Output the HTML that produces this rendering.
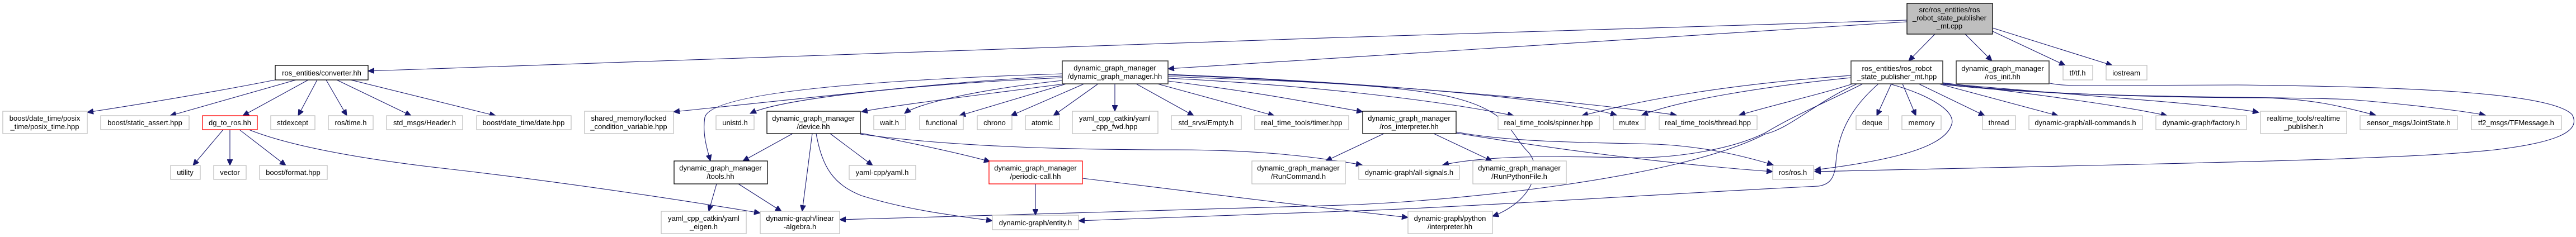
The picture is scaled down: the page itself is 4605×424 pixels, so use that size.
<!DOCTYPE html>
<html><head><meta charset="utf-8"><style>
html,body{margin:0;padding:0;background:#fff;}
svg{display:block;}
text{font-family:"Liberation Sans",Arial,sans-serif;font-size:13px;fill:#000;text-anchor:middle;}
.g{fill:#fff;stroke:#bfbfbf;stroke-width:1.3;}
.b{fill:#fff;stroke:#000;stroke-width:1.3;}
.d{fill:#fff;stroke:#404040;stroke-width:1.6;}
.r{fill:#fff;stroke:#ff0000;stroke-width:1.3;}
.m{fill:#bfbfbf;stroke:#000;stroke-width:1.3;}
path.e{fill:none;stroke:#191970;stroke-width:1.1;marker-end:url(#a);}
</style></head><body>
<svg width="4605" height="424" viewBox="0 0 4605 424" xmlns="http://www.w3.org/2000/svg">
<defs><marker id="a" markerUnits="userSpaceOnUse" markerWidth="12" markerHeight="10" refX="11" refY="5" orient="auto"><path d="M0,0 L11,5 L0,10 z" fill="#191970" stroke="#191970"/></marker></defs>

<!-- edges -->
<path class="e" d="M3409,36 C2500,60 1200,110 658,127"/>
<path class="e" d="M3409,39 C2900,70 2400,100 2088,123"/>
<path class="e" d="M3459,61 L3412,109"/>
<path class="e" d="M3513,61 L3561,109"/>
<path class="e" d="M3560,55 L3692,117"/>
<path class="e" d="M3562,50 L3776,117"/>

<path class="e" d="M492,143 C380,165 260,185 156,201"/>
<path class="e" d="M529,143 L304,207"/>
<path class="e" d="M551,143 L434,207"/>
<path class="e" d="M567,143 L533,207"/>
<path class="e" d="M583,143 L620,207"/>
<path class="e" d="M602,143 L735,207"/>
<path class="e" d="M627,143 L886,207"/>

<path class="e" d="M399,232 L345,296"/>
<path class="e" d="M411,232 L411,296"/>
<path class="e" d="M428,232 L511,296"/>
<path class="e" d="M445,232 C520,262 650,285 800,302 C1000,325 1200,355 1359,381"/>

<path class="e" d="M1899,132 C1500,145 1270,170 1260,210 C1255,240 1265,270 1270,288"/>
<path class="e" d="M1899,136 C1700,145 1500,170 1204,200"/>
<path class="e" d="M1899,139 C1650,150 1400,175 1341,203"/>
<path class="e" d="M1903,150 C1750,170 1600,188 1540,200"/>
<path class="e" d="M1899,144 C1750,160 1640,185 1617,203"/>
<path class="e" d="M1906,150 L1715,207"/>
<path class="e" d="M1938,150 L1807,207"/>
<path class="e" d="M1963,150 L1883,207"/>
<path class="e" d="M1993,150 L1993,199"/>
<path class="e" d="M2031,150 L2134,207"/>
<path class="e" d="M2069,150 L2278,207"/>
<path class="e" d="M2088,133 C2500,150 2800,180 2890,206"/>
<path class="e" d="M2088,134 C2500,150 2850,185 2997,206"/>
<path class="e" d="M2088,137 C2300,145 2500,150 2600,175 C2700,200 2700,240 2730,270 C2760,300 2740,360 2668,387"/>
<path class="e" d="M2088,140 C2300,150 2550,175 2706,207"/>
<path class="e" d="M2088,145 C2250,165 2350,185 2436,200"/>

<path class="e" d="M1417,239 L1328,288"/>
<path class="e" d="M1452,239 L1434,378"/>
<path class="e" d="M1484,239 L1560,296"/>
<path class="e" d="M1459,239 C1470,300 1490,330 1540,350 C1620,375 1700,385 1774,395"/>
<path class="e" d="M1538,238 C1600,250 1700,270 1770,289"/>
<path class="e" d="M1538,240 C1700,262 1900,268 2100,268 C2250,268 2350,280 2435,295"/>

<path class="e" d="M1281,329 L1267,378"/>
<path class="e" d="M1320,329 L1397,378"/>
<path class="e" d="M1851,329 L1851,385"/>
<path class="e" d="M1935,319 C2150,345 2300,365 2517,389"/>

<path class="e" d="M2474,239 L2370,288"/>
<path class="e" d="M2563,239 L2667,288"/>
<path class="e" d="M2603,236 C2700,255 2850,255 2961,258 C3050,262 3120,280 3170,295"/>
<path class="e" d="M2603,238 C2800,270 3000,295 3169,307"/>

<path class="e" d="M3320,150 C3250,180 3200,230 3155,240 C3000,320 2600,360 2400,367 L1501,393"/>
<path class="e" d="M3358,150 C3300,200 3285,250 3282,290 C3280,320 3270,330 3251,333 C3000,345 2600,372 2400,378 L1928,395"/>
<path class="e" d="M3312,150 C3250,170 3180,185 3109,206"/>
<path class="e" d="M3330,150 C3260,185 3210,205 3155,238 C3100,265 3000,285 2900,282 C2750,278 2650,280 2579,295"/>
<path class="e" d="M3309,135 C3100,150 2950,175 2828,207"/>
<path class="e" d="M3309,139 C3150,155 3000,180 2935,206"/>
<path class="e" d="M3378,150 C3450,170 3500,200 3488,225 C3475,260 3400,285 3244,304"/>
<path class="e" d="M3381,150 L3355,207"/>
<path class="e" d="M3401,150 L3425,207"/>
<path class="e" d="M3430,150 L3548,207"/>
<path class="e" d="M3466,150 L3679,207"/>
<path class="e" d="M3473,148 C3650,170 3800,190 3874,207"/>
<path class="e" d="M3473,149 C3700,170 3950,185 4038,201"/>
<path class="e" d="M3473,150 C3650,170 3900,175 4050,175 C4150,178 4200,195 4247,206"/>
<path class="e" d="M3473,151 C3700,178 4100,172 4200,178 C4300,186 4400,198 4443,206"/>
<path class="e" d="M3660,148 C3680,153 3700,153 3750,153 L4000,152 C4300,155 4560,165 4598,205 C4615,235 4570,255 4460,268 C4300,285 4000,290 3244,307"/>

<!-- nodes -->
<rect class="m" x="3409" y="6" width="153" height="55"/>
<text x="3485" y="22"><tspan x="3485">src/ros_entities/ros</tspan><tspan x="3485" dy="14.5">_robot_state_publisher</tspan><tspan x="3485" dy="14.5">_mt.cpp</tspan></text>

<rect class="b" x="492" y="117" width="166" height="26"/><text x="575" y="135">ros_entities/converter.hh</text>
<rect class="d" x="1899" y="109" width="189" height="41"/><text x="1993" y="126"><tspan x="1993">dynamic_graph_manager</tspan><tspan x="1993" dy="15">/dynamic_graph_manager.hh</tspan></text>
<rect class="d" x="3309" y="109" width="164" height="41"/><text x="3391" y="127"><tspan x="3391">ros_entities/ros_robot</tspan><tspan x="3391" dy="14.5">_state_publisher_mt.hpp</tspan></text>
<rect class="d" x="3497" y="109" width="166" height="41"/><text x="3580" y="127"><tspan x="3580">dynamic_graph_manager</tspan><tspan x="3580" dy="14.5">/ros_init.hh</tspan></text>
<rect class="g" x="3688" y="117" width="53" height="26"/><text x="3714" y="135">tf/tf.h</text>
<rect class="g" x="3765" y="117" width="73" height="26"/><text x="3801" y="135">iostream</text>

<rect class="g" x="5" y="199" width="151" height="40"/><text x="80" y="216"><tspan x="80">boost/date_time/posix</tspan><tspan x="80" dy="15">_time/posix_time.hpp</tspan></text>
<rect class="g" x="180" y="207" width="158" height="25"/><text x="259" y="224">boost/static_assert.hpp</text>
<rect class="r" x="362" y="207" width="98" height="25"/><text x="411" y="224">dg_to_ros.hh</text>
<rect class="g" x="484" y="207" width="79" height="25"/><text x="523" y="224">stdexcept</text>
<rect class="g" x="587" y="207" width="80" height="25"/><text x="627" y="224">ros/time.h</text>
<rect class="g" x="691" y="207" width="136" height="25"/><text x="759" y="224">std_msgs/Header.h</text>
<rect class="g" x="852" y="207" width="169" height="25"/><text x="936" y="224">boost/date_time/date.hpp</text>
<rect class="g" x="1045" y="199" width="159" height="40"/><text x="1124" y="216"><tspan x="1124">shared_memory/locked</tspan><tspan x="1124" dy="15">_condition_variable.hpp</tspan></text>
<rect class="g" x="1280" y="207" width="68" height="25"/><text x="1314" y="224">unistd.h</text>
<rect class="b" x="1371" y="199" width="167" height="40"/><text x="1454" y="216"><tspan x="1454">dynamic_graph_manager</tspan><tspan x="1454" dy="15">/device.hh</tspan></text>
<rect class="g" x="1562" y="207" width="57" height="25"/><text x="1590" y="224">wait.h</text>
<rect class="g" x="1644" y="207" width="78" height="25"/><text x="1683" y="224">functional</text>
<rect class="g" x="1747" y="207" width="62" height="25"/><text x="1778" y="224">chrono</text>
<rect class="g" x="1833" y="207" width="61" height="25"/><text x="1863" y="224">atomic</text>
<rect class="g" x="1917" y="199" width="153" height="40"/><text x="1993" y="216"><tspan x="1993">yaml_cpp_catkin/yaml</tspan><tspan x="1993" dy="15">_cpp_fwd.hpp</tspan></text>
<rect class="g" x="2094" y="207" width="125" height="25"/><text x="2156" y="224">std_srvs/Empty.h</text>
<rect class="g" x="2243" y="207" width="168" height="25"/><text x="2327" y="224">real_time_tools/timer.hpp</text>
<rect class="b" x="2436" y="199" width="167" height="40"/><text x="2519" y="216"><tspan x="2519">dynamic_graph_manager</tspan><tspan x="2519" dy="15">/ros_interpreter.hh</tspan></text>
<rect class="g" x="2678" y="207" width="181" height="25"/><text x="2768" y="224">real_time_tools/spinner.hpp</text>
<rect class="g" x="2884" y="207" width="57" height="25"/><text x="2912" y="224">mutex</text>
<rect class="g" x="2966" y="207" width="175" height="25"/><text x="3053" y="224">real_time_tools/thread.hpp</text>
<rect class="g" x="3318" y="207" width="58" height="25"/><text x="3347" y="224">deque</text>
<rect class="g" x="3400" y="207" width="70" height="25"/><text x="3435" y="224">memory</text>
<rect class="g" x="3544" y="207" width="59" height="25"/><text x="3573" y="224">thread</text>
<rect class="g" x="3627" y="207" width="203" height="25"/><text x="3728" y="224">dynamic-graph/all-commands.h</text>
<rect class="g" x="3854" y="207" width="162" height="25"/><text x="3935" y="224">dynamic-graph/factory.h</text>
<rect class="g" x="4041" y="199" width="154" height="40"/><text x="4118" y="216"><tspan x="4118">realtime_tools/realtime</tspan><tspan x="4118" dy="15">_publisher.h</tspan></text>
<rect class="g" x="4219" y="207" width="174" height="25"/><text x="4306" y="224">sensor_msgs/JointState.h</text>
<rect class="g" x="4418" y="207" width="161" height="25"/><text x="4498" y="224">tf2_msgs/TFMessage.h</text>

<rect class="g" x="305" y="296" width="53" height="25"/><text x="331" y="313">utility</text>
<rect class="g" x="382" y="296" width="58" height="25"/><text x="411" y="313">vector</text>
<rect class="g" x="464" y="296" width="121" height="25"/><text x="524" y="313">boost/format.hpp</text>
<rect class="b" x="1205" y="288" width="167" height="41"/><text x="1288" y="305"><tspan x="1288">dynamic_graph_manager</tspan><tspan x="1288" dy="15">/tools.hh</tspan></text>
<rect class="g" x="1518" y="296" width="119" height="25"/><text x="1577" y="313">yaml-cpp/yaml.h</text>
<rect class="r" x="1768" y="288" width="167" height="41"/><text x="1851" y="305"><tspan x="1851">dynamic_graph_manager</tspan><tspan x="1851" dy="15">/periodic-call.hh</tspan></text>
<rect class="g" x="2238" y="288" width="167" height="41"/><text x="2321" y="305"><tspan x="2321">dynamic_graph_manager</tspan><tspan x="2321" dy="15">/RunCommand.h</tspan></text>
<rect class="g" x="2429" y="296" width="180" height="25"/><text x="2519" y="313">dynamic-graph/all-signals.h</text>
<rect class="g" x="2633" y="288" width="167" height="41"/><text x="2716" y="305"><tspan x="2716">dynamic_graph_manager</tspan><tspan x="2716" dy="15">/RunPythonFile.h</tspan></text>
<rect class="g" x="3169" y="296" width="73" height="25"/><text x="3205" y="313">ros/ros.h</text>

<rect class="g" x="1182" y="378" width="152" height="40"/><text x="1258" y="395"><tspan x="1258">yaml_cpp_catkin/yaml</tspan><tspan x="1258" dy="15">_eigen.h</tspan></text>
<rect class="g" x="1359" y="378" width="142" height="40"/><text x="1430" y="395"><tspan x="1430">dynamic-graph/linear</tspan><tspan x="1430" dy="15">-algebra.h</tspan></text>
<rect class="g" x="1774" y="385" width="154" height="26"/><text x="1851" y="403">dynamic-graph/entity.h</text>
<rect class="g" x="2517" y="378" width="151" height="40"/><text x="2592" y="395"><tspan x="2592">dynamic-graph/python</tspan><tspan x="2592" dy="15">/interpreter.hh</tspan></text>
</svg>
</body></html>
